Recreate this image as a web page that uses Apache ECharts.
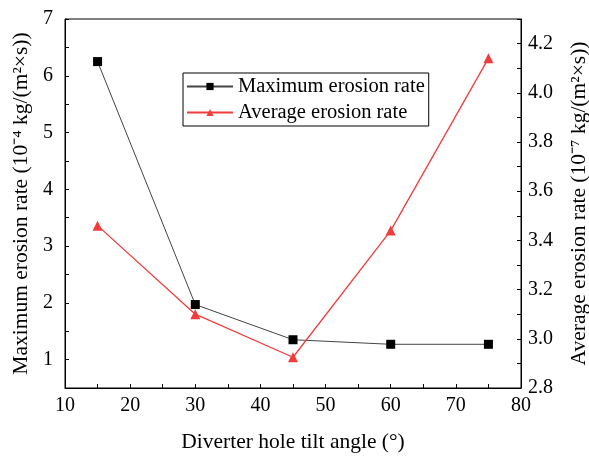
<!DOCTYPE html>
<html><head><meta charset="utf-8">
<script src="https://cdn.jsdelivr.net/npm/echarts@6/dist/echarts.min.js"></script>
<style>html,body{margin:0;padding:0;background:#fff}#c{width:589px;height:458px}</style>
</head><body><div id="c"></div>
<script>
const angles = [15, 30, 45, 60, 75];
const maxRate = [6.25, 1.97, 1.35, 1.27, 1.27];
const avgRate = [3.46, 3.10, 2.925, 3.44, 4.14];
const seriesNames = ['Maximum erosion rate', 'Average erosion rate'];
const xTitle = 'Diverter hole tilt angle (°)';
const yLeftTitle = 'Maximum erosion rate (10⁻⁴ kg/(m²×s))';
const yRightTitle = 'Average erosion rate (10⁻⁷ kg/(m²×s))';

const F = 'Liberation Serif, Times New Roman, serif';
const chart = echarts.init(document.getElementById('c'));
const axisCommon = {
  axisLine: {show: true, onZero: false, lineStyle: {color: '#000', width: 1}},
  axisTick: {show: true, inside: true, length: 4, lineStyle: {color: '#000'}},
  splitLine: {show: false},
  axisLabel: {color: '#000', fontFamily: F, fontSize: 20},
  nameTextStyle: {color: '#000', fontFamily: F, fontSize: 21.5}
};
chart.setOption({
  animation: false,
  grid: {left: 65, right: 68, top: 19, bottom: 70, show: true, borderColor: '#000', borderWidth: 1,
         containLabel: false, outerBoundsMode: 'none'},
  legend: {
    orient: 'vertical', left: 183, top: 73,
    backgroundColor: '#fff', borderColor: '#000', borderWidth: 1,
    padding: [3, 4, 3, 3], itemGap: 5, itemWidth: 46, itemHeight: 9,
    textStyle: {fontFamily: F, fontSize: 20.5, color: '#000'},
    data: seriesNames
  },
  xAxis: Object.assign({}, axisCommon, {
    type: 'value', min: 10, max: 80, interval: 5,
    name: xTitle, nameLocation: 'middle', nameGap: 43,
    axisLabel: Object.assign({}, axisCommon.axisLabel, {margin: 8,
      formatter: v => (v % 10 === 0 ? String(v) : '')})
  }),
  yAxis: [
    Object.assign({}, axisCommon, {
      type: 'value', min: 0.5, max: 7, interval: 0.5,
      name: yLeftTitle, nameLocation: 'middle', nameGap: 24,
      axisLabel: Object.assign({}, axisCommon.axisLabel, {margin: 12,
        formatter: v => (Math.abs(v - Math.round(v)) < 1e-6 ? String(Math.round(v)) : '')})
    }),
    Object.assign({}, axisCommon, {
      type: 'value', min: 2.8, max: 4.3, interval: 0.1, position: 'right',
      name: yRightTitle, nameLocation: 'middle', nameGap: 47, nameRotate: 90,
      axisLabel: Object.assign({}, axisCommon.axisLabel, {margin: 7,
        formatter: v => (Math.round(v * 10) % 2 === 0 ? v.toFixed(1) : '')})
    })
  ],
  series: [
    {name: seriesNames[0], type: 'line', yAxisIndex: 0,
     data: angles.map((a, i) => [a, maxRate[i]]),
     symbol: 'rect', symbolSize: 9,
     lineStyle: {color: '#444', width: 1}, itemStyle: {color: '#000'}},
    {name: seriesNames[1], type: 'line', yAxisIndex: 1,
     data: angles.map((a, i) => [a, avgRate[i]]),
     symbol: 'triangle', symbolSize: 10,
     lineStyle: {color: '#f03c3c', width: 1.3}, itemStyle: {color: '#f03c3c'}}
  ]
});
</script></body></html>
